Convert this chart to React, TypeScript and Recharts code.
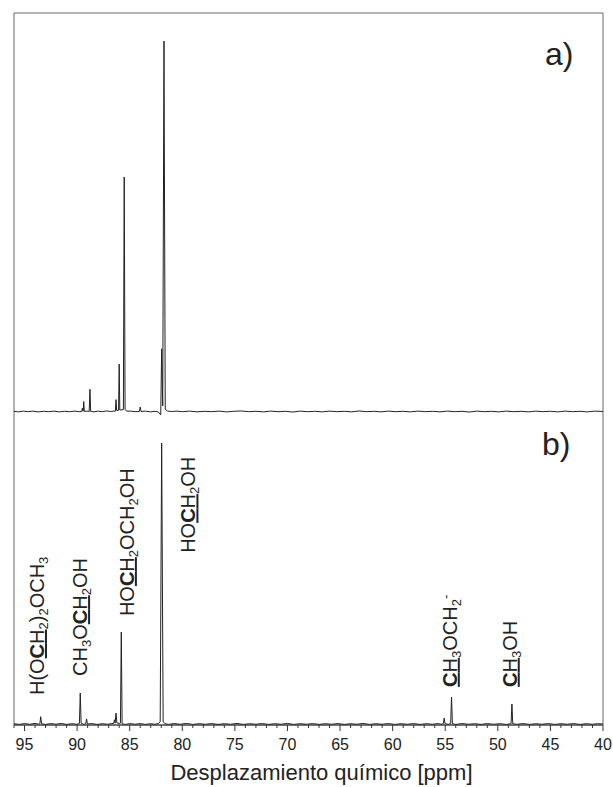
import React from "react";
import {
  ComposedChart, Line, XAxis, YAxis, ReferenceArea, ReferenceDot,
} from "recharts";

// ─── Data (ppm, intensity) ────────────────────────────────────────────────────
// a) tallest peak = 100, b) tallest peak = 100

const spectrumA: [number, number][] = [
  [96.0, 0.05], [95.6, -0.1], [95.1, 0.1], [94.7, -0.05], [94.2, 0.1], [93.7, -0.1], [93.2, 0.05],
  [92.7, -0.05], [92.2, 0.1], [91.7, -0.1], [91.2, 0.05], [90.7, -0.05], [90.2, 0.1], [89.8, -0.05],
  [89.56, 0], [89.5, 0.9], [89.45, 0.1], [89.42, 0.1], [89.37, 2.7], [89.31, 0], [89.1, 0.1],
  [88.85, 0], [88.78, 6.0], [88.71, 0], [88.4, -0.1], [88.0, 0.1], [87.6, -0.05], [87.2, 0.15],
  [86.8, 0], [86.5, 0.1], [86.36, 0.1], [86.3, 3.2], [86.24, 0.3], [86.06, 0.3], [86.0, 12.8],
  [85.94, 0.4], [85.6, 0.5], [85.52, 63.3], [85.44, 0.6], [85.3, 0.1], [84.9, 0.1], [84.5, -0.05],
  [84.08, 0], [84.0, 1.2], [83.92, 0], [83.5, 0.1], [83.0, -0.1], [82.6, 0.05], [82.3, -0.1],
  [82.05, -0.9], [81.96, 16.9], [81.86, 1.5], [81.74, 100], [81.62, 0.6], [81.4, 0.1], [81.0, 0],
  [80.5, 0.1], [80.0, -0.05], [79.3, 0.1], [78.6, -0.1], [77.9, 0.05], [77.2, -0.05], [76.5, 0.1],
  [75.8, -0.1], [75.1, 0.05], [74.4, 0.15], [73.7, -0.05], [73.0, 0.05], [72.3, -0.1], [71.6, 0.1],
  [70.9, -0.05], [70.2, 0.05], [69.5, -0.15], [68.8, 0.1], [68.1, -0.05], [67.4, 0.05], [66.7, -0.1],
  [66.0, 0.1], [65.3, -0.05], [64.6, 0.05], [63.9, -0.1], [63.2, 0.15], [62.5, -0.05], [61.8, 0.05],
  [61.1, -0.1], [60.4, 0.1], [59.7, -0.05], [59.0, 0.05], [58.3, -0.1], [57.6, 0.1], [56.9, -0.05],
  [56.2, 0.05], [55.5, -0.1], [54.8, 0.1], [54.1, -0.05], [53.4, 0.05], [52.7, -0.15], [52.0, 0.1],
  [51.3, -0.05], [50.6, 0.05], [49.9, -0.1], [49.2, 0.1], [48.5, -0.05], [47.8, 0.05], [47.1, -0.1],
  [46.4, 0.1], [45.7, -0.05], [45.0, 0.05], [44.3, -0.1], [43.6, 0.1], [42.9, -0.05], [42.2, 0.05],
  [41.5, -0.1], [40.8, 0.1], [40.0, 0],
];

const spectrumB: [number, number][] = [
  [96.0, 0.1], [95.5, -0.15], [95.0, 0.15], [94.5, -0.1], [94.0, 0.2], [93.6, -0.1], [93.54, 0.1],
  [93.46, 2.6], [93.38, 0.1], [93.0, -0.15], [92.5, 0.15], [92.0, -0.1], [91.5, 0.2], [91.0, -0.15],
  [90.5, 0.1], [90.0, -0.1], [89.78, 0.2], [89.7, 11.0], [89.62, 0.3], [89.4, -0.1], [89.18, 0.1],
  [89.1, 1.8], [89.02, 0], [88.6, 0.15], [88.1, -0.15], [87.6, 0.1], [87.1, -0.1], [86.7, 0.15],
  [86.52, 0.2], [86.45, 1.5], [86.38, 0.3], [86.3, 3.9], [86.22, 0.4], [86.0, 0.2], [85.88, 0.3],
  [85.8, 32.7], [85.72, 0.1], [85.4, -0.15], [85.0, 0.15], [84.5, -0.1], [84.0, 0.15], [83.5, -0.15],
  [83.0, 0.1], [82.6, -0.1], [82.25, 0.2], [82.1, 0.8], [81.96, 100], [81.82, 0.8], [81.65, 0.1],
  [81.3, -0.15], [80.8, 0.15], [80.2, -0.1], [79.6, 0.2], [79.0, -0.15], [78.4, 0.1], [77.8, -0.1],
  [77.2, 0.15], [76.6, -0.15], [76.0, 0.1], [75.4, -0.1], [74.8, 0.2], [74.2, -0.15], [73.6, 0.1],
  [73.0, -0.1], [72.4, 0.15], [71.8, -0.15], [71.2, 0.1], [70.6, -0.1], [70.0, 0.2], [69.4, -0.15],
  [68.8, 0.1], [68.2, -0.1], [67.6, 0.15], [67.0, -0.15], [66.4, 0.1], [65.8, -0.1], [65.2, 0.15],
  [64.6, -0.15], [64.0, 0.1], [63.4, -0.1], [62.8, 0.2], [62.2, -0.15], [61.6, 0.1], [61.0, -0.1],
  [60.4, 0.15], [59.8, -0.15], [59.2, 0.1], [58.6, -0.1], [58.0, 0.15], [57.4, -0.15], [56.8, 0.1],
  [56.2, -0.1], [55.7, 0.15], [55.4, -0.1], [55.18, 0.1], [55.1, 2.1], [55.02, 0.1], [54.7, -0.1],
  [54.48, 0.1], [54.4, 9.6], [54.32, 0.1], [54.0, -0.15], [53.4, 0.15], [52.8, -0.1], [52.2, 0.1],
  [51.6, -0.15], [51.0, 0.15], [50.4, -0.1], [49.8, 0.1], [49.2, -0.15], [48.74, 0.1], [48.66, 7.1],
  [48.58, 0.1], [48.2, -0.1], [47.6, 0.15], [47.0, -0.15], [46.4, 0.1], [45.8, -0.1], [45.2, 0.15],
  [44.6, -0.15], [44.0, 0.1], [43.4, -0.1], [42.8, 0.15], [42.2, -0.15], [41.6, 0.1], [41.0, -0.1],
  [40.5, 0.1], [40.0, 0],
];

const majorTicks = [95, 90, 85, 80, 75, 70, 65, 60, 55, 50, 45, 40];
const minorTicks = [
  96, 94, 93, 92, 91, 89, 88, 87, 86, 84, 83, 82, 81, 79, 78, 77, 76, 74, 73, 72, 71,
  69, 68, 67, 66, 64, 63, 62, 61, 59, 58, 57, 56, 54, 53, 52, 51, 49, 48, 47, 46, 44, 43, 42, 41,
];

// Peak assignments in b): text pieces (s = sub / sup, b = bold, u = underlined)
type Part = { t: string; s?: "sub" | "sup"; b?: boolean; u?: boolean };
const peakLabels: Part[][] = [
  [{ t: "H(O" }, { t: "C", b: true, u: true }, { t: "H", u: true }, { t: "2", s: "sub" }, { t: ")" }, { t: "2", s: "sub" }, { t: "OCH" }, { t: "3", s: "sub" }],
  [{ t: "CH" }, { t: "3", s: "sub" }, { t: "O" }, { t: "C", b: true, u: true }, { t: "H", u: true }, { t: "2", s: "sub" }, { t: "OH" }],
  [{ t: "HO" }, { t: "C", b: true, u: true }, { t: "H", u: true }, { t: "2", s: "sub" }, { t: "OCH" }, { t: "2", s: "sub" }, { t: "OH" }],
  [{ t: "HO" }, { t: "C", b: true, u: true }, { t: "H", u: true }, { t: "2", s: "sub" }, { t: "OH" }],
  [{ t: "C", b: true, u: true }, { t: "H", u: true }, { t: "3", s: "sub" }, { t: "OCH" }, { t: "2", s: "sub" }, { t: "-", s: "sup" }],
  [{ t: "C", b: true, u: true }, { t: "H", u: true }, { t: "3", s: "sub" }, { t: "OH" }],
];

// where each label starts (ppm of its baseline, height on the b) scale)
const labelSpots: [number, number][] = [
  [93.15, 10.3], [89.05, 17.1], [84.6, 38.4], [78.75, 60.9], [53.9, 13.2], [48.2, 13.2],
];

// ─── Layout ───────────────────────────────────────────────────────────────────

const FONT = "Arial, 'Liberation Sans', Helvetica, sans-serif";
const INK = "#222";
const A_DOMAIN: [number, number] = [-84.62, 107.56];
const B_DOMAIN: [number, number] = [-0.36, 253.0];

const rowsA = spectrumA.map(([ppm, v]) => ({ ppm, v }));
const rowsB = spectrumB.map(([ppm, v]) => ({ ppm, v }));
const allTicks = [...majorTicks, ...minorTicks].sort((p, q) => q - p);

function PpmTick({ x, y, payload }: any) {
  const major = majorTicks.includes(payload.value);
  return (
    <g>
      <line x1={x} x2={x} y1={y} y2={y + (major ? 6 : 3)} stroke="#333" strokeWidth={1} />
      {major && (
        <text x={x} y={y + 25} textAnchor="middle" fontSize={16} fill={INK} fontFamily={FONT}>
          {payload.value}
        </text>
      )}
    </g>
  );
}

function AxisTitle({ viewBox }: any) {
  const x = viewBox?.x ?? 14;
  const y = viewBox?.y ?? 725;
  const w = viewBox?.width ?? 589;
  return (
    <text x={x + w / 2 + 13} y={y + 55} textAnchor="middle" fontSize={22} fill={INK} fontFamily={FONT}>
      Desplazamiento químico [ppm]
    </text>
  );
}

const shift = { sub: 4, sup: -7 };

function PeakLabel({ cx, cy, parts }: { cx: number; cy: number; parts: Part[] }) {
  let prev = 0;
  return (
    <text
      x={cx}
      y={cy}
      transform={`rotate(-90 ${cx} ${cy})`}
      fontSize={20}
      fill={INK}
      fontFamily={FONT}
    >
      {parts.map((p, i) => {
        const off = p.s ? shift[p.s] : 0;
        const dy = off - prev;
        prev = off;
        return (
          <tspan
            key={i}
            dy={dy}
            fontSize={p.s ? 13 : 20}
            fontWeight={p.b ? "bold" : "normal"}
            style={p.u ? { textDecoration: "underline" } : undefined}
          >
            {p.t}
          </tspan>
        );
      })}
    </text>
  );
}

export default function App() {
  return (
    <div style={{ position: "absolute", left: 0, top: 0, width: 613, height: 787, background: "#fff" }}>
      <ComposedChart width={613} height={787} margin={{ top: 13, right: 10, bottom: 0, left: 14 }}>
        <XAxis
          type="number"
          dataKey="ppm"
          domain={[40, 96]}
          reversed
          allowDataOverflow
          ticks={allTicks}
          interval={0}
          tickSize={0}
          tickMargin={0}
          tickLine={false}
          tick={<PpmTick />}
          height={62}
          axisLine={{ stroke: "#333" }}
          label={<AxisTitle />}
        />
        <YAxis yAxisId="a" type="number" hide domain={A_DOMAIN} allowDataOverflow />
        <YAxis yAxisId="b" type="number" hide domain={B_DOMAIN} allowDataOverflow />

        <ReferenceArea x1={96} x2={40} yAxisId="b" fill="none" stroke="#666" strokeWidth={1} ifOverflow="visible" />

        <Line data={rowsA} yAxisId="a" dataKey="v" type="linear" stroke={INK} strokeWidth={1}
          dot={false} activeDot={false} isAnimationActive={false} />
        <Line data={rowsB} yAxisId="b" dataKey="v" type="linear" stroke={INK} strokeWidth={1}
          dot={false} activeDot={false} isAnimationActive={false} />

        {peakLabels.map((parts, i) => (
          <ReferenceDot
            key={i}
            yAxisId="b"
            x={labelSpots[i][0]}
            y={labelSpots[i][1]}
            r={0}
            ifOverflow="visible"
            shape={(p: any) => <PeakLabel cx={p.cx} cy={p.cy} parts={parts} />}
          />
        ))}
      </ComposedChart>

      <svg width={613} height={787} style={{ position: "absolute", left: 0, top: 0, pointerEvents: "none" }}>
        <text x={545} y={65} fontSize={32} fill={INK} fontFamily={FONT}>a)</text>
        <text x={542} y={455} fontSize={32} fill={INK} fontFamily={FONT}>b)</text>
      </svg>
    </div>
  );
}
